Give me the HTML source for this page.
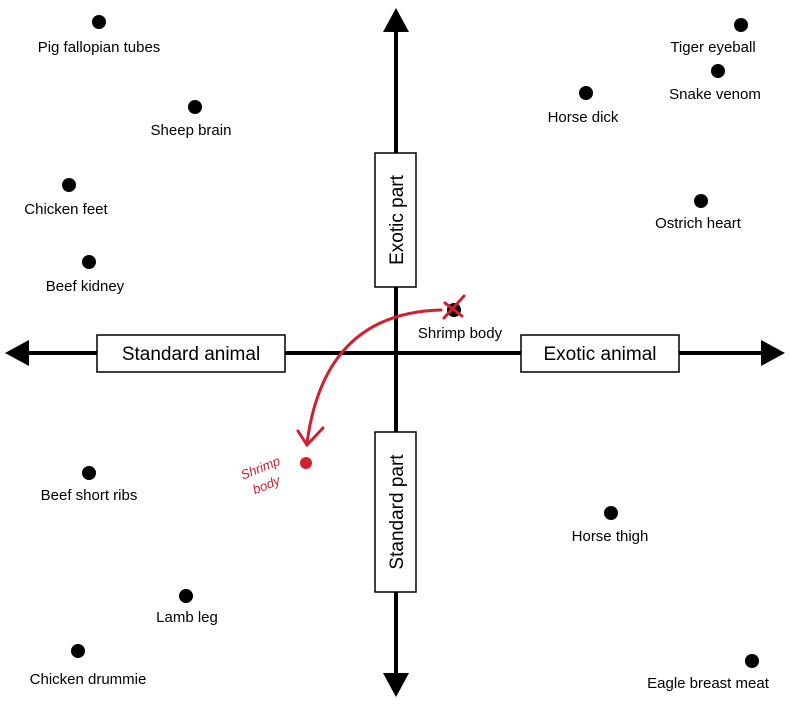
<!DOCTYPE html>
<html><head><style>
html,body{margin:0;padding:0;background:#fff;}
svg text{font-family:"Liberation Sans",sans-serif;}
</style></head><body>
<svg width="790" height="703" viewBox="0 0 790 703" xmlns="http://www.w3.org/2000/svg">
<g stroke="#000" stroke-width="4">
<line x1="20" y1="353" x2="770" y2="353"/>
<line x1="396" y1="22" x2="396" y2="683"/>
</g>
<polygon points="5,353 29,340 29,366" fill="#000"/>
<polygon points="785,353 761,340 761,366" fill="#000"/>
<polygon points="396,8 383,32 409,32" fill="#000"/>
<polygon points="396,697 383,673 409,673" fill="#000"/>
<g fill="#fff" stroke="#000" stroke-width="1.5">
<rect x="97" y="335" width="188" height="37"/>
<rect x="521" y="335" width="158" height="37"/>
<rect x="375" y="153" width="41" height="134"/>
<rect x="375" y="432" width="41" height="160"/>
</g>
<g font-size="19" text-anchor="middle" fill="#000">
<text x="191" y="360">Standard animal</text>
<text x="600" y="360">Exotic animal</text>
<text transform="translate(403,220) rotate(-90)">Exotic part</text>
<text transform="translate(403,512) rotate(-90)">Standard part</text>
</g>
<g fill="#000">
<circle cx="99" cy="22" r="7"/><circle cx="195" cy="107" r="7"/>
<circle cx="69" cy="185" r="7"/><circle cx="89" cy="262" r="7"/>
<circle cx="89" cy="473" r="7"/><circle cx="186" cy="596" r="7"/>
<circle cx="78" cy="651" r="7"/><circle cx="741" cy="25" r="7"/>
<circle cx="718" cy="71" r="7"/><circle cx="586" cy="93" r="7"/>
<circle cx="701" cy="201" r="7"/><circle cx="454" cy="310" r="7"/>
<circle cx="611" cy="513" r="7"/><circle cx="752" cy="661" r="7"/>
</g>
<g font-size="15" text-anchor="middle" fill="#000">
<text x="99" y="52">Pig fallopian tubes</text>
<text x="191" y="135">Sheep brain</text>
<text x="66" y="214">Chicken feet</text>
<text x="85" y="291">Beef kidney</text>
<text x="89" y="500">Beef short ribs</text>
<text x="187" y="622">Lamb leg</text>
<text x="88" y="684">Chicken drummie</text>
<text x="713" y="52">Tiger eyeball</text>
<text x="715" y="99">Snake venom</text>
<text x="583" y="122">Horse dick</text>
<text x="698" y="228">Ostrich heart</text>
<text x="460" y="338">Shrimp body</text>
<text x="610" y="541">Horse thigh</text>
<text x="708" y="688">Eagle breast meat</text>
</g>
<g stroke="#d0202e" stroke-width="3" fill="none" stroke-linecap="round">
<path d="M441,310 C360,312 318,360 307,443"/>
<polyline points="298,431 307,445 323,428"/>
<line x1="444" y1="318" x2="464" y2="296"/>
<line x1="445" y1="303" x2="462" y2="316"/>
</g>
<circle cx="306" cy="463" r="6" fill="#d0202e"/>
<g fill="#d0202e" font-size="13" font-style="italic" text-anchor="middle">
<text transform="translate(262,472) rotate(-22)">Shrimp</text>
<text transform="translate(268,489) rotate(-22)">body</text>
</g>
</svg>
</body></html>
